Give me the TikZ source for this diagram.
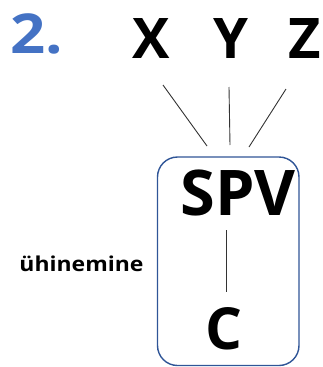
\documentclass[tikz,border=0pt]{standalone}
\usepackage{fontspec}
\setmainfont{Open Sans}[BoldFont={* Bold}]
\newfontfamily\widesans{Open Sans}[BoldFont={* Bold}, FakeStretch=1.12]
\definecolor{numblue}{HTML}{4472C4}
\definecolor{boxblue}{HTML}{2F5597}
\definecolor{linegray}{HTML}{333333}
\tikzset{
  lbl/.style={inner sep=0pt, anchor=base, font=\bfseries},
  tie/.style={draw=linegray, line width=0.9pt},
  frame/.style={draw=boxblue, line width=1.4pt, rounded corners=20pt}
}
\begin{document}
\begin{tikzpicture}[x=1pt, y=1pt]
  \useasboundingbox (0,0) rectangle (322,-367);
  % heading number
  \node[lbl, text=numblue, font=\widesans\bfseries\fontsize{55}{55}\selectfont] (num) at (37,-53) {2.};
  % top elements
  \node[lbl, font=\bfseries\fontsize{56}{56}\selectfont] (x) at (151.5,-58) {X};
  \node[lbl, font=\bfseries\fontsize{56}{56}\selectfont] (y) at (231,-58) {Y};
  \node[lbl, font=\bfseries\fontsize{56}{56}\selectfont] (z) at (304.5,-58) {Z};
  % framed group
  \draw[frame] (157.5,-157) rectangle (299,-365.5);
  \node[lbl, font=\bfseries\fontsize{63}{63}\selectfont] (spv) at (238,-215) {SPV};
  \node[lbl, font=\bfseries\fontsize{58}{58}\selectfont] (c) at (223.5,-349) {C};
  \node[lbl, font=\widesans\bfseries\fontsize{20.5}{20.5}\selectfont] (lab) at (81.5,-271) {ühinemine};
  % connector end points
  \coordinate (xa) at (163,-85);  \coordinate (xb) at (207,-146);
  \coordinate (ya) at (229,-87);  \coordinate (yb) at (230,-145);
  \coordinate (za) at (286,-89);  \coordinate (zb) at (249,-147);
  \coordinate (sa) at (226,-230); \coordinate (sb) at (226,-292);
  \draw[tie] (xa) -- (xb);
  \draw[tie] (ya) -- (yb);
  \draw[tie] (za) -- (zb);
  \draw[tie] (sa) -- (sb);
\end{tikzpicture}
\end{document}
